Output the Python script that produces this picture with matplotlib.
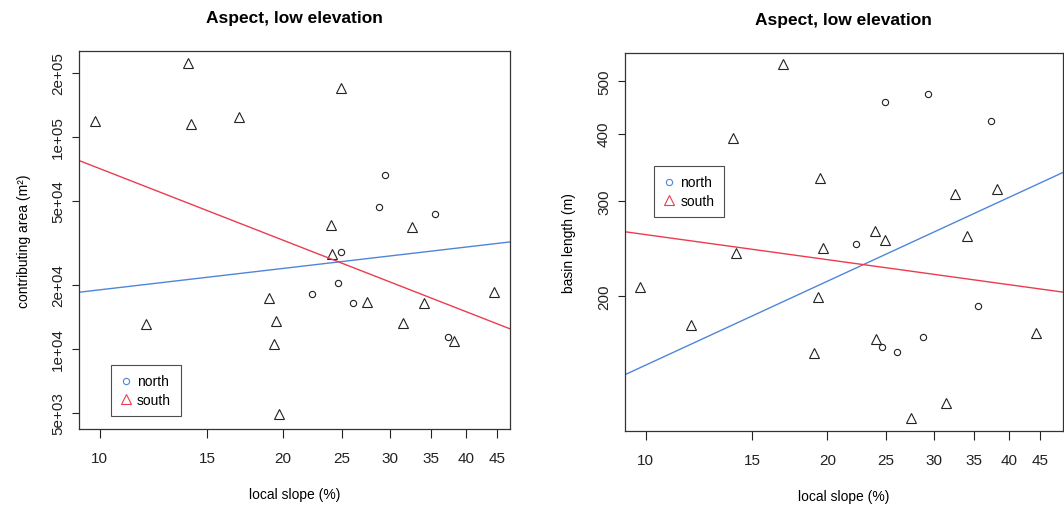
import numpy as np
import matplotlib
matplotlib.use("Agg")
import matplotlib.pyplot as plt
from matplotlib.lines import Line2D

plt.rcParams['font.family'] = ['Liberation Sans', 'DejaVu Sans']

# local slope (%) per basin, split by aspect
north_slope = [22.3, 24.6, 24.9, 26.1, 28.8, 29.4, 35.6, 37.3]
south_slope = [9.8, 11.9, 13.95, 14.1, 16.9, 19.0, 19.3, 19.45, 19.7,
               24.0, 24.1, 24.9, 27.5, 31.5, 32.6, 34.1, 38.2, 44.4]

# contributing area (m2)
north_area = [1.82e4, 2.04e4, 2.85e4, 1.64e4, 4.65e4, 6.6e4, 4.33e4, 1.14e4]
south_area = [1.19e5, 1.31e4, 2.22e5, 1.14e5, 1.24e5, 1.73e4, 1.06e4, 1.35e4, 4.94e3,
              3.85e4, 2.80e4, 1.69e5, 1.67e4, 1.32e4, 3.74e4, 1.65e4, 1.09e4, 1.86e4]

# basin length (m)
north_length = [250, 161, 457, 158, 168, 473, 192, 422]
south_length = [208, 177, 393, 240, 537, 157, 199, 331, 246,
                264, 167, 254, 119, 127, 309, 259, 316, 171]

# log10-log10 regression lines: (intercept, slope)
area_fit = {'north': (3.944, 0.3345), 'south': (5.968, -1.119)}
length_fit = {'north': (1.658, 0.5156), 'south': (2.569, -0.1539)}

x_ticks = [10, 15, 20, 25, 30, 35, 40, 45]
area_ticks = [5e3, 1e4, 2e4, 5e4, 1e5, 2e5]
area_labels = ['5e+03', '1e+04', '2e+04', '5e+04', '1e+05', '2e+05']
length_ticks = [200, 300, 400, 500]

BLUE = '#4f86d9'
RED = '#ec3b50'
INK = '#222222'

fig = plt.figure(figsize=(10.64, 5.10), dpi=100)
ax1 = fig.add_axes([0.0742, 0.1569, 0.4051, 0.7412])
ax2 = fig.add_axes([0.5874, 0.1524, 0.4114, 0.7418])


def panel(ax, yn, ys, fits, xlim, ylim, yticks, ylabels, ylab, leg_anchor):
    ax.set_xscale('log')
    ax.set_yscale('log')
    ax.plot(north_slope, yn, 'o', ms=4.5, mfc='none', mec=INK, mew=0.8)
    ax.plot(south_slope, ys, '^', ms=6.5, mfc='none', mec=INK, mew=0.8)

    xx = np.array(xlim)
    for key, col in (('north', BLUE), ('south', RED)):
        a, b = fits[key]
        ax.plot(xx, 10 ** (a + b * np.log10(xx)), color=col, lw=1.0)

    ax.set_xlim(*xlim)
    ax.set_ylim(*ylim)
    ax.xaxis.set_minor_locator(matplotlib.ticker.NullLocator())
    ax.yaxis.set_minor_locator(matplotlib.ticker.NullLocator())
    ax.set_xticks(x_ticks, [str(t) for t in x_ticks])
    ax.set_yticks(yticks, ylabels, rotation=90, va='center')
    ax.tick_params(axis='x', length=6.5, width=0.8, pad=9, labelsize=11, colors=INK)
    ax.tick_params(axis='y', length=5, width=0.8, pad=5, labelsize=11, colors=INK)
    for s in ax.spines.values():
        s.set_color('#333333')
        s.set_linewidth(0.9)

    ax.set_title('Aspect, low elevation', fontsize=12.5, fontweight='bold', pad=21)
    ax.set_xlabel('local slope (%)', fontsize=10, va='center')
    ax.xaxis.set_label_coords(0.5, -0.172)
    ax.set_ylabel(ylab, fontsize=10, va='center')
    ax.yaxis.set_label_coords(-0.127, 0.5)

    handles = [Line2D([], [], ls='none', marker='o', ms=4.5, mfc='none', mec=BLUE, mew=0.8),
               Line2D([], [], ls='none', marker='^', ms=6.5, mfc='none', mec=RED, mew=0.8)]
    leg = ax.legend(handles, ['north', 'south'], loc='lower left', bbox_to_anchor=leg_anchor,
                    borderaxespad=0, fancybox=False, edgecolor=INK, fontsize=10,
                    handlelength=0.8, handletextpad=0.4, borderpad=0.7, labelspacing=0.3)
    leg.get_frame().set_linewidth(0.8)


panel(ax1, north_area, south_area, area_fit, (9.24, 47.2), (4.2e3, 2.53e5),
      area_ticks, area_labels, 'contributing area (m²)', (0.0735, 0.0336))
panel(ax2, north_length, south_length, length_fit, (9.24, 49.1), (112.5, 564),
      length_ticks, [str(t) for t in length_ticks], 'basin length (m)', (0.0663, 0.5657))

fig.savefig('out.png', dpi=100, facecolor='white')
